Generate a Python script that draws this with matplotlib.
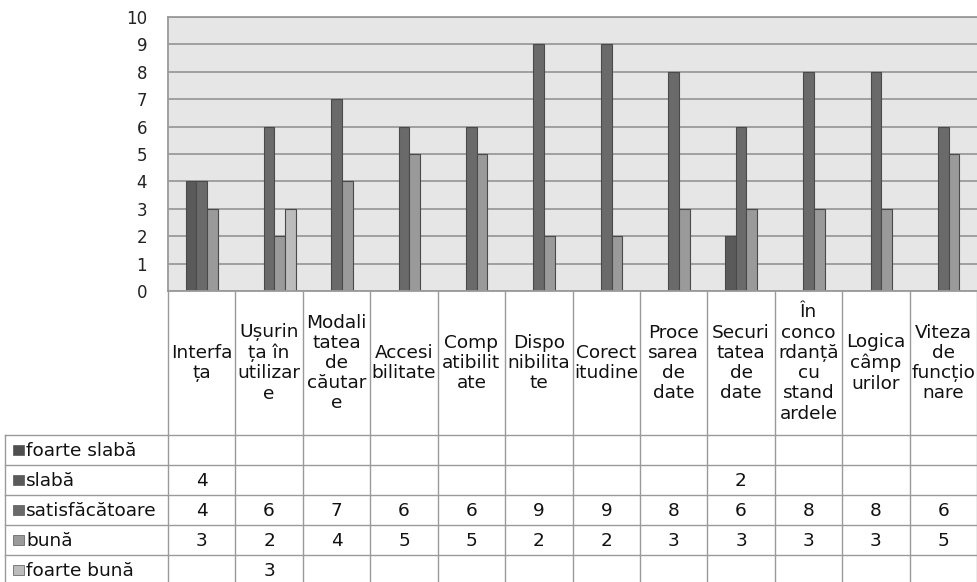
import numpy as np
import matplotlib.pyplot as plt
from matplotlib.patches import Rectangle

plt.rcParams['font.family'] = ['DejaVu Sans']

# Criterii evaluate (textul din antet, rupt pe rânduri ca în tabel)
categorii = [
    'Interfa\nța',
    'Ușurin\nța în\nutilizar\ne',
    'Modali\ntatea\nde\ncăutar\ne',
    'Accesi\nbilitate',
    'Comp\natibilit\nate',
    'Dispo\nnibilita\nte',
    'Corect\nitudine',
    'Proce\nsarea\nde\ndate',
    'Securi\ntatea\nde\ndate',
    'În\nconco\nrdanță\ncu\nstand\nardele',
    'Logica\ncâmp\nurilor',
    'Viteza\nde\nfuncțio\nnare',
]

nan = np.nan
foarte_slaba = [nan] * 12
slaba = [4, nan, nan, nan, nan, nan, nan, nan, 2, nan, nan, nan]
satisfacatoare = [4, 6, 7, 6, 6, 9, 9, 8, 6, 8, 8, 6]
buna = [3, 2, 4, 5, 5, 2, 2, 3, 3, 3, 3, 5]
foarte_buna = [nan, 3, nan, nan, nan, nan, nan, nan, nan, nan, nan, nan]

serii = ['foarte slabă', 'slabă', 'satisfăcătoare', 'bună', 'foarte bună']
valori = [foarte_slaba, slaba, satisfacatoare, buna, foarte_buna]
culori = ['#4f4f4f', '#5a5a5a', '#6a6a6a', '#9a9a9a', '#bcbcbc']

W, H = 977, 582
fig = plt.figure(figsize=(W / 100, H / 100), dpi=100)

# zona graficului (pixeli)
x0, y_top, y_bot = 168, 17, 291
ax = fig.add_axes([x0 / W, 1 - y_bot / H, (W - x0) / W, (y_bot - y_top) / H])
ax.set_facecolor('#e6e6e6')
ax.set_xlim(-0.5, len(categorii) - 0.5)
ax.set_ylim(0, 10)
ax.set_yticks(range(0, 11))
ax.yaxis.grid(True, color='#9a9a9a', lw=1.3)
ax.set_axisbelow(True)
ax.set_xticks([])
ax.tick_params(axis='y', length=0, pad=15, labelsize=12, labelcolor='#222222')
ax.spines['right'].set_visible(False)
for s in ['left', 'top', 'bottom']:
    ax.spines[s].set_color('#9a9a9a')
    ax.spines[s].set_linewidth(1.3)

bw = 1 / 6.3
x = np.arange(len(categorii))
for k, (v, c) in enumerate(zip(valori, culori)):
    ax.bar(x + (k - 2) * bw, v, width=bw, color=c, edgecolor='#4a4a4a',
           linewidth=0.8)

# tabelul de date sub grafic
tax = fig.add_axes([0, 0, 1, y_bot / H])
tax.set_xlim(0, W)
tax.set_ylim(H, y_bot)
tax.axis('off')

cat_px = (W - x0) / len(categorii)
muchii = [x0 + i * cat_px for i in range(len(categorii) + 1)]
hdr_bot = 435
row_h = 30
left = 5
lc = '#9a9a9a'
fs = 13.3

# linii verticale
for xe in muchii:
    tax.plot([xe, xe], [y_bot, H], color=lc, lw=1)
tax.plot([left, left], [hdr_bot, H], color=lc, lw=1)
# linii orizontale
for r in range(len(serii)):
    y = hdr_bot + r * row_h
    tax.plot([left, W], [y, y], color=lc, lw=1)

# antet
for i, cat in enumerate(categorii):
    xc = (muchii[i] + muchii[i + 1]) / 2
    tax.text(xc, (y_bot + hdr_bot) / 2, cat, ha='center', va='center',
             fontsize=fs, linespacing=1.16, color='#111111')

# rânduri
for r, (nume, v, c) in enumerate(zip(serii, valori, culori)):
    yc = hdr_bot + r * row_h + row_h / 2
    tax.add_patch(Rectangle((13, yc - 5), 11, 10, facecolor=c,
                            edgecolor='#555555', lw=0.5))
    tax.text(26, yc + 1, nume, ha='left', va='center', fontsize=fs,
             color='#111111')
    for i, val in enumerate(v):
        if not np.isnan(val):
            xc = (muchii[i] + muchii[i + 1]) / 2
            tax.text(xc, yc + 1, '%d' % val, ha='center', va='center',
                     fontsize=fs, color='#111111')

fig.savefig('out.png', dpi=100)
